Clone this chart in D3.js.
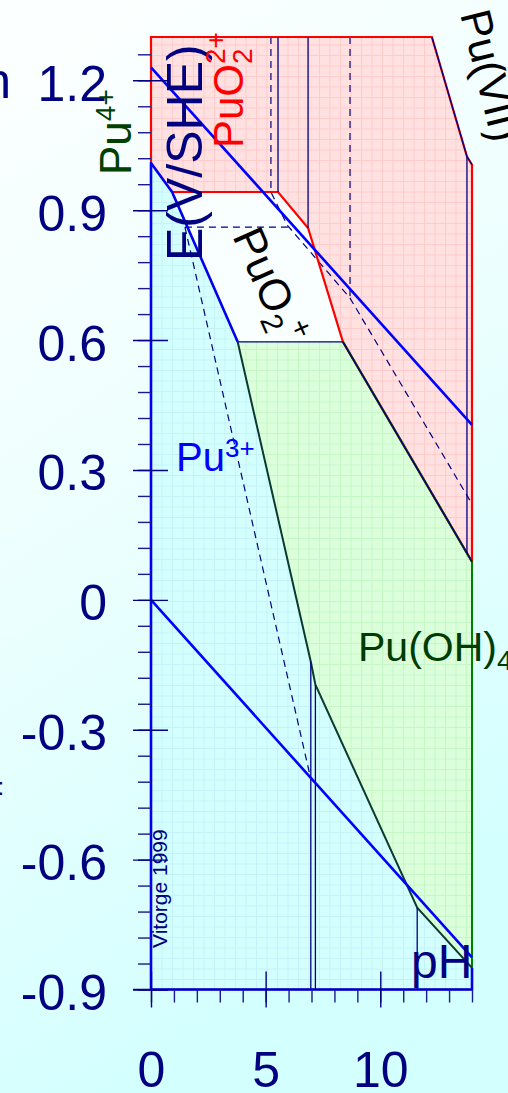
<!DOCTYPE html>
<html>
<head>
<meta charset="utf-8">
<script src="https://cdn.jsdelivr.net/npm/d3@7"></script>
<style>
  html, body { margin: 0; padding: 0; overflow: hidden; }
  svg { display: block; font-family: "Liberation Sans", Arial, sans-serif; }
</style>
</head>
<body>
<svg id="chart" width="508" height="1093"></svg>
<script>
// ---- axes ----
const pHMinorTicks = d3.range(0, 15, 1);
const pHLabelTicks = [0, 5, 10];
const eLabelTicks = [1.2, 0.9, 0.6, 0.3, 0, -0.3, -0.6, -0.9];
const eMinorTicks = d3.range(0, 37).map(i => +(-0.9 + i * 0.06).toFixed(2));

// ---- predominance domains, vertices as [pH, E (V/SHE)] ----
const domainPuO2_2plus = [[0, 1.30], [12.25, 1.30], [13.78, 1.024], [14, 1.005], [14, 0.088],
  [8.37, 0.596], [6.85, 0.859], [5.54, 0.942], [0.92, 0.942], [0, 1.009]];
const domainPuO2plus = [[0.92, 0.942], [5.54, 0.942], [6.85, 0.859], [8.37, 0.596], [3.78, 0.596]];
const domainPuOH4 = [[3.78, 0.596], [8.37, 0.596], [14, 0.088], [14, -0.85], [11.61, -0.711],
  [7.17, -0.196], [6.97, -0.143]];
const domainPu3plus = [[0, 1.009], [0.92, 0.942], [3.78, 0.596], [6.97, -0.143], [7.17, -0.196],
  [11.61, -0.711], [14, -0.85], [14, -0.9], [0, -0.9]];

// ---- water stability limits ----
const waterO2 = [[0, 1.23], [14, 0.404]];
const waterH2 = [[0, 0], [14, -0.826]];

// ---- other solid boundaries (thin navy) ----
const navyLines = [
  [[5.54, 1.30], [5.54, 0.942]],
  [[6.85, 1.30], [6.85, 0.859]],
  [[12.25, 1.30], [13.78, 1.024], [14, 1.005]],
  [[13.78, 1.024], [13.78, 0.107]],
  [[3.78, 0.596], [8.37, 0.596], [14, 0.088]],
  [[6.97, -0.143], [6.97, -0.9]],
  [[7.17, -0.196], [7.17, -0.9]],
  [[11.61, -0.711], [11.61, -0.9]]
];

// ---- dashed boundaries (other conditions) ----
const dashedLines = [
  [[5.23, 1.30], [5.23, 0.942], [5.95, 0.865], [8.68, 0.697], [13.95, 0.226]],
  [[8.68, 1.30], [8.68, 0.697]],
  [[1.48, 0.861], [5.97, 0.861]],
  [[1.48, 0.861], [6.95, -0.409]]
];

const svg = d3.select("#chart");
const W = 508, H = 1093;

const x = d3.scaleLinear().domain([0, 14]).range([151, 472]);
const y = d3.scaleLinear().domain([-0.9, 1.3]).range([989.5, 37]);
const line = d3.line().x(d => x(d[0])).y(d => y(d[1]));
const NAVY = "#000080";

const defs = svg.append("defs");
const bg = defs.append("linearGradient").attr("id", "bg")
  .attr("x1", 0).attr("y1", 0).attr("x2", 0.3).attr("y2", 1);
bg.append("stop").attr("offset", 0).attr("stop-color", "#fdffff");
bg.append("stop").attr("offset", 0.45).attr("stop-color", "#eefffe");
bg.append("stop").attr("offset", 1).attr("stop-color", "#d3ffff");

function gridPattern(id, base, grid) {
  const s = 10.5;
  const p = defs.append("pattern").attr("id", id).attr("patternUnits", "userSpaceOnUse")
    .attr("width", s).attr("height", s).attr("x", x(0)).attr("y", y(-0.9));
  p.append("rect").attr("width", s).attr("height", s).attr("fill", base);
  p.append("path").attr("d", `M0,0.5H${s}M0.5,0V${s}`).attr("stroke", grid).attr("stroke-width", 1);
}
gridPattern("gRed", "#ffe1e1", "#ffcaca");
gridPattern("gCyan", "#d4ffff", "#c4f2f8");
gridPattern("gGreen", "#dbffdb", "#c6f6c6");

svg.append("rect").attr("width", W).attr("height", H).attr("fill", "url(#bg)");

// domain fills
const fills = svg.append("g");
fills.append("path").attr("d", line(domainPuO2_2plus) + "Z").attr("fill", "url(#gRed)");
fills.append("path").attr("d", line(domainPuO2plus) + "Z").attr("fill", "#f9ffff");
fills.append("path").attr("d", line(domainPuOH4) + "Z").attr("fill", "url(#gGreen)");
fills.append("path").attr("d", line(domainPu3plus) + "Z").attr("fill", "url(#gCyan)");

// dashed boundaries
svg.append("g").selectAll("path").data(dashedLines).join("path")
  .attr("d", line).attr("fill", "none").attr("stroke", NAVY)
  .attr("stroke-width", 1.2).attr("stroke-dasharray", "7,5");

// red outline of PuO2(2+) domain
const n2 = domainPuO2_2plus.length;
const redBorder = [domainPuO2_2plus[n2 - 1], ...domainPuO2_2plus.slice(0, n2 - 1)];
svg.append("path").attr("d", line(redBorder)).attr("fill", "none")
  .attr("stroke", "#ff0000").attr("stroke-width", 2.2);

// green outline of Pu(OH)4 domain
svg.append("path").attr("d", line([domainPuOH4[2], domainPuOH4[3]])).attr("fill", "none")
  .attr("stroke", "#008000").attr("stroke-width", 2);
svg.append("path").attr("d", line(domainPuOH4.slice(1, 3))).attr("fill", "none")
  .attr("stroke", "#006000").attr("stroke-width", 2.2);

// Pu(3+) / Pu(OH)4 boundary
svg.append("path").attr("d", line(domainPu3plus.slice(2, 7))).attr("fill", "none")
  .attr("stroke", "#0a3a30").attr("stroke-width", 2);

// thin navy boundaries
svg.append("g").selectAll("path").data(navyLines).join("path")
  .attr("d", line).attr("fill", "none").attr("stroke", NAVY).attr("stroke-width", 1.3);

// blue outline of Pu(3+) domain
const blueBorder = [domainPu3plus[6], domainPu3plus[7], domainPu3plus[8], domainPu3plus[0],
  domainPu3plus[1], domainPu3plus[2]];
svg.append("path").attr("d", line(blueBorder)).attr("fill", "none")
  .attr("stroke", "#0000ee").attr("stroke-width", 2.6).attr("stroke-linejoin", "round");

// water lines
svg.append("g").selectAll("path").data([waterO2, waterH2]).join("path")
  .attr("d", line).attr("fill", "none").attr("stroke", "#0000ff").attr("stroke-width", 2.6);

// ---- axes ----
function styleAxis(g, color) {
  g.select(".domain").remove();
  g.selectAll("line").attr("stroke", color).attr("stroke-width", 1.4);
  g.selectAll("text").attr("fill", NAVY).attr("font-family", "Liberation Sans, Arial, sans-serif");
}
const eFormat = d => d === 0 ? "0" : d3.format(".1f")(d).replace("\u2212", "-");

svg.append("g").attr("transform", `translate(${x(0)},0)`)
  .call(d3.axisLeft(y).tickValues(eMinorTicks).tickSize(13).tickFormat(""))
  .call(g => styleAxis(g, "#1a1a8a"));
svg.append("g").attr("transform", `translate(${x(0) - 18},0)`)
  .call(d3.axisRight(y).tickValues(eLabelTicks).tickSize(35).tickFormat(""))
  .call(g => styleAxis(g, NAVY));
const yLab = svg.append("g").attr("transform", `translate(${x(0)},0)`)
  .call(d3.axisLeft(y).tickValues(eLabelTicks).tickSize(0).tickPadding(44).tickFormat(eFormat))
  .call(g => styleAxis(g, NAVY));
yLab.selectAll("text").attr("font-size", 50).attr("dy", "0.4em");

svg.append("line").attr("x1", x(0) - 18).attr("x2", x(14)).attr("y1", y(-0.9)).attr("y2", y(-0.9))
  .attr("stroke", NAVY).attr("stroke-width", 1.4);
svg.append("g").attr("transform", `translate(0,${y(-0.9)})`)
  .call(d3.axisBottom(x).tickValues(pHMinorTicks).tickSize(13).tickFormat(""))
  .call(g => styleAxis(g, "#1a1a8a"));
svg.append("g").attr("transform", `translate(0,${y(-0.9) - 18})`)
  .call(d3.axisBottom(x).tickValues(pHLabelTicks).tickSize(36).tickFormat(""))
  .call(g => styleAxis(g, NAVY));
const xLab = svg.append("g").attr("transform", `translate(0,${y(-0.9)})`)
  .call(d3.axisBottom(x).tickValues(pHLabelTicks).tickSize(0).tickPadding(62).tickFormat(d3.format("d")))
  .call(g => styleAxis(g, NAVY));
xLab.selectAll("text").attr("font-size", 50);

// ---- labels ----
const T = svg.append("g").attr("font-family", "Liberation Sans, Arial, sans-serif");

T.append("text").attr("transform", "translate(202,261) rotate(-90)")
  .attr("font-size", 50).attr("fill", NAVY).text("E(V/SHE)");

const puo22 = T.append("text").attr("transform", "translate(243,148) rotate(-90)")
  .attr("font-size", 42).attr("fill", "#ff0000");
puo22.append("tspan").text("PuO");
puo22.append("tspan").attr("font-size", 28).attr("dy", 9).text("2");
puo22.append("tspan").attr("font-size", 28).attr("dx", -15.6).attr("dy", -27).text("2+");

const pu4 = T.append("text").attr("transform", "translate(131,175) rotate(-90)")
  .attr("font-size", 44).attr("fill", "#004000");
pu4.append("tspan").text("Pu");
pu4.append("tspan").attr("font-size", 28).attr("dy", -16).text("4+");

// Pu(VII) label runs along its boundary
T.append("text").attr("transform", "translate(460,14) rotate(76)")
  .attr("font-size", 43).attr("fill", "#000000").text("Pu(VII)");

const puo2 = T.append("text").attr("transform", "translate(232,236) rotate(66)")
  .attr("font-size", 44).attr("fill", "#000000");
puo2.append("tspan").text("PuO");
puo2.append("tspan").attr("font-size", 30).attr("dy", 9).text("2");
puo2.append("tspan").attr("font-size", 30).attr("dx", -1).attr("dy", -25).text("+");

const pu3 = T.append("text").attr("x", 176).attr("y", 471)
  .attr("font-size", 40).attr("fill", "#0000ff");
pu3.append("tspan").text("Pu");
pu3.append("tspan").attr("font-size", 26).attr("dy", -14).text("3+");

const puoh4 = T.append("text").attr("x", 358).attr("y", 661)
  .attr("font-size", 41).attr("fill", "#003c00");
puoh4.append("tspan").text("Pu(OH)");
puoh4.append("tspan").attr("font-size", 28).attr("dy", 9).text("4");

T.append("text").attr("transform", "translate(167,948) rotate(-90)")
  .attr("font-size", 21).attr("fill", NAVY).text("Vitorge 1999");

T.append("text").attr("x", 411).attr("y", 978).attr("font-size", 48).attr("fill", NAVY).text("pH");

T.append("text").attr("x", 11).attr("y", 98).attr("text-anchor", "end")
  .attr("font-size", 50).attr("fill", NAVY).text("n");
T.append("text").attr("x", -2.5).attr("y", 795)
  .attr("font-size", 24).attr("fill", NAVY).text(":");
</script>
</body>
</html>
